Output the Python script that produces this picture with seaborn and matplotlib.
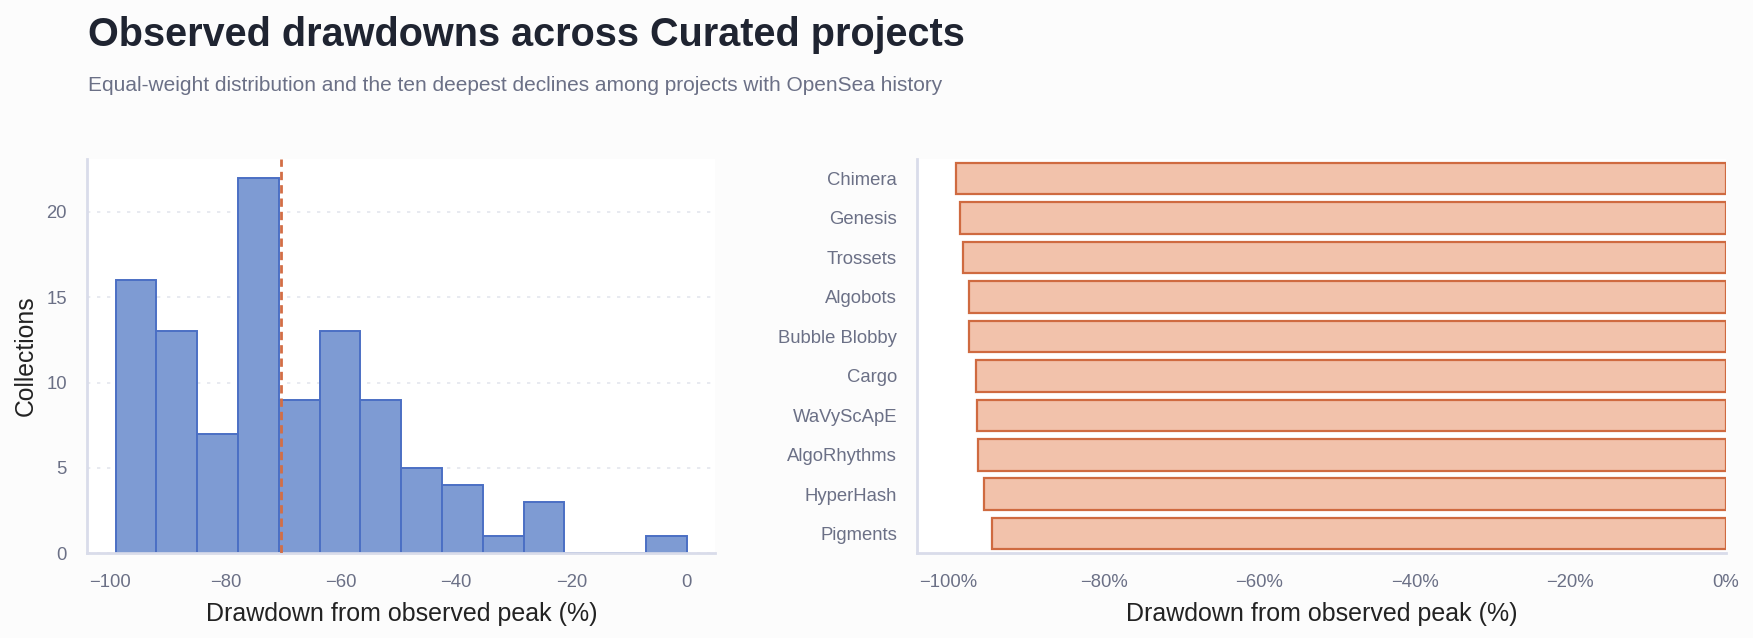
import pandas as pd
import matplotlib
matplotlib.use("Agg")
import matplotlib.pyplot as plt
from matplotlib.ticker import FuncFormatter
import seaborn as sns

# histogram of drawdowns (bin range / counts)
bin_lo, bin_hi, n_bins = -99.0, 0.0, 14
hist_counts = [16, 13, 7, 22, 9, 13, 9, 5, 4, 1, 3, 0, 0, 1]
median_drawdown = -70.3

# ten deepest declines
projects = ["Chimera", "Genesis", "Trossets", "Algobots", "Bubble Blobby",
            "Cargo", "WaVyScApE", "AlgoRhythms", "HyperHash", "Pigments"]
drawdowns = [-99.0, -98.5, -98.1, -97.3, -97.3, -96.4, -96.3, -96.1, -95.4, -94.4]

C = {
    "bg": "#fcfcfc",
    "title": "#1f2431",
    "sub": "#6b7086",
    "tick": "#6b7086",
    "label": "#222222",
    "spine": "#d9dcea",
    "grid": "#e4e6ee",
    "hist": "#7e9bd3",
    "hist_edge": "#4b6fc4",
    "line": "#d36e45",
    "bar": "#f2c2ab",
    "bar_edge": "#cf6a40",
}

sns.set_theme(style="white")
plt.rcParams.update({
    "font.family": ["Liberation Sans", "DejaVu Sans"],
    "figure.facecolor": C["bg"],
    "axes.facecolor": "white",
    "axes.edgecolor": C["spine"],
    "xtick.color": C["tick"],
    "ytick.color": C["tick"],
    "axes.labelcolor": C["label"],
})

fig = plt.figure(figsize=(17.53, 6.38), dpi=100)
ax1 = fig.add_axes([0.0497, 0.1326, 0.3584, 0.6185])
ax2 = fig.add_axes([0.5233, 0.1326, 0.4613, 0.6185])

width = (bin_hi - bin_lo) / n_bins
hist_df = pd.DataFrame({
    "center": [bin_lo + width * (i + 0.5) for i in range(n_bins)],
    "count": hist_counts,
})
sns.histplot(data=hist_df, x="center", weights="count", bins=n_bins,
             binrange=(bin_lo, bin_hi), ax=ax1,
             color=C["hist"], edgecolor=C["hist_edge"], linewidth=1.4, alpha=1)
ax1.axvline(median_drawdown, color=C["line"], lw=2, ls=(0, (3, 1.8)), zorder=3)
ax1.set_yticks([0, 5, 10, 15, 20])
ax1.grid(True, axis="y", color=C["grid"], ls=(0, (2, 4)), lw=1.2)
ax1.set_axisbelow(True)
ax1.set_xlabel("Drawdown from observed peak (%)", fontsize=18, labelpad=8)
ax1.set_ylabel("Collections", fontsize=17.8, labelpad=6)

sns.barplot(x=drawdowns, y=projects, orient="h", ax=ax2, color=C["bar"],
            edgecolor=C["bar_edge"], linewidth=1.6, saturation=1)
ax2.set_xlim(min(drawdowns) * 1.05, 0)
ax2.set_xticks([-100, -80, -60, -40, -20, 0])
ax2.xaxis.set_major_formatter(FuncFormatter(lambda v, p: f"{v:.0f}%".replace("-", "\u2212")))
ax2.set_xlabel("Drawdown from observed peak (%)", fontsize=18, labelpad=8)
ax2.set_ylabel("")

for ax in (ax1, ax2):
    sns.despine(ax=ax)
    for s in ("left", "bottom"):
        ax.spines[s].set_color(C["spine"])
        ax.spines[s].set_linewidth(2)
    ax.tick_params(length=0, labelsize=13.3, pad=14.5)

fig.text(0.050, 0.928, "Observed drawdowns across Curated projects",
         fontsize=28.5, fontweight="bold", color=C["title"])
fig.text(0.050, 0.866, "Equal-weight distribution and the ten deepest declines among projects with OpenSea history",
         fontsize=15, color=C["sub"], va="center")

fig.savefig("out.png", dpi=100, facecolor=C["bg"])
